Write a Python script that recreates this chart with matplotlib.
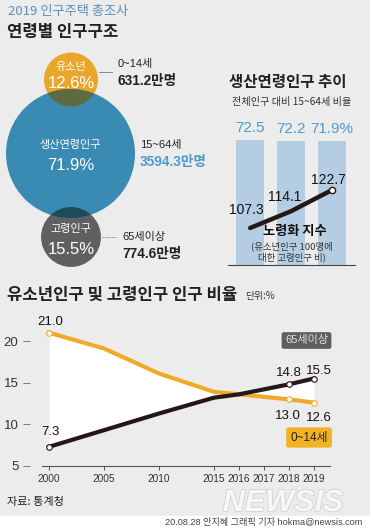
import numpy as np
import matplotlib
matplotlib.use('Agg')
import matplotlib.pyplot as plt
from matplotlib.patches import Circle, Rectangle
import matplotlib.patheffects as pe

plt.rcParams['font.family'] = ['Noto Sans CJK KR', 'DejaVu Sans']
KR = ['Noto Sans CJK KR', 'DejaVu Sans']
NUM = ['Liberation Sans', 'Noto Sans CJK KR', 'DejaVu Sans']

# ---------------- data ----------------
age_groups = ['유소년', '생산연령인구', '고령인구']
age_ranges = ['0~14세', '15~64세', '65세이상']
age_shares = [12.6, 71.9, 15.5]
age_pops = ['631.2만명', '3594.3만명', '774.6만명']

work_labels = ['72.5', '72.2', '71.9%']
work_share = [72.5, 72.2, 71.9]
aging_index = [107.3, 114.1, 122.7]

years = [2000, 2005, 2010, 2015, 2016, 2017, 2018, 2019]
year_labels = ['2000', '2005', '2010', '2015', '2016', '2017', '2018', '2019']
youth = [21.0, 19.1, 16.1, 13.9, 13.6, 13.3, 13.0, 12.6]
elderly = [7.3, 9.3, 11.3, 13.2, 13.6, 14.2, 14.8, 15.5]
marked_years = [2000, 2018, 2019]
y_ticks = [5, 10, 15, 20]

# ---------------- style ----------------
BG = '#ececec'
YEL = '#e9a62b'
BLUE = '#3a8bb3'
GRAY = '#606060'
OLIVE = '#5d6a42'
TEAL = '#1f4a5c'
BAR = '#b4cde2'
TXTBLUE = '#4b9ccb'
DARK = '#231815'
LINEYEL = '#f0aa2a'

W, H = 370, 530
fig = plt.figure(figsize=(W / 100, H / 100), dpi=100, facecolor=BG)

def px_axes(l, t, r, b):
    return fig.add_axes([l / W, 1 - b / H, (r - l) / W, (b - t) / H])

# background / pixel axes
ax0 = fig.add_axes([0, 0, 1, 1])
ax0.set_xlim(0, W)
ax0.set_ylim(H, 0)
ax0.axis('off')
ax0.add_patch(Rectangle((0, 516), W, 14, color='white', zorder=0))

def ftext(x, y, s, **kw):
    # figure-level text placed in pixel coordinates (drawn above all axes)
    return fig.text(x, y, s, transform=ax0.transData, **kw)

ax0.text(8, 12, '2019 인구주택 총조사', fontsize=9.5, color='#5e8fb8', va='center', ha='left', family=KR)
ax0.text(7, 32, '연령별 인구구조', fontsize=12, fontweight='bold', color='#222', va='center', ha='left', family=KR)

# ---- circles (area proportional to share) ----
R_big = 64.5
radii = [R_big * np.sqrt(s / age_shares[1]) for s in age_shares]
centers = [(71, 79.5), (70.5, 153.5), (71, 237)]
c_y = Circle(centers[0], radii[0], color=YEL, lw=0, zorder=1)
c_g = Circle(centers[2], radii[2], color=GRAY, lw=0, zorder=1)
c_b = Circle(centers[1], radii[1], color=BLUE, lw=0, zorder=2)
for c in (c_y, c_g, c_b):
    ax0.add_patch(c)
ov1 = Circle(centers[0], radii[0], color=OLIVE, lw=0, zorder=3)
ov2 = Circle(centers[2], radii[2], color=TEAL, lw=0, zorder=3)
ax0.add_patch(ov1); ov1.set_clip_path(c_b)
ax0.add_patch(ov2); ov2.set_clip_path(c_b)

inner_name_y = [67, 145, 229]
inner_val_y = [84, 166, 250]
for i in range(3):
    cx = centers[i][0]
    ax0.text(cx, inner_name_y[i], age_groups[i], fontsize=8, color='white', ha='center', va='center', zorder=5, family=KR)
    ax0.text(cx, inner_val_y[i], f'{age_shares[i]}%', fontsize=12, color='white', ha='center', va='center', zorder=5, family=NUM)

lab_x = [118, 140, 122]
lab_y1 = [64, 145, 237]
lab_y2 = [81, 162, 254]
pop_colors = ['#222', TXTBLUE, '#222']
for i in range(3):
    ax0.text(lab_x[i], lab_y1[i], age_ranges[i], fontsize=8, color='#222', ha='left', va='center', family=NUM)
    ax0.text(lab_x[i], lab_y2[i], age_pops[i], fontsize=9.8, fontweight='bold', color=pop_colors[i], ha='left', va='center', family=NUM)
ax0.plot([centers[0][0] + radii[0] + 1, 112], [72, 72], color='#888', lw=0.7)
ax0.plot([centers[2][0] + radii[2] + 1, 117], [237, 237], color='#888', lw=0.7, ls=(0, (1.5, 1)))

# ---- right panel ----
ax0.text(229, 82, '생산연령인구 추이', fontsize=11.2, fontweight='bold', color='#222', ha='left', va='center', family=KR)
ax0.text(232, 102, '전체인구 대비 15~64세 비율', fontsize=7.3, color='#333', ha='left', va='center', family=KR)

axb = px_axes(228, 130, 355, 265)
axb.set_facecolor('none')
xb = np.arange(len(work_share))
axb.bar(xb, work_share, width=0.7, color=BAR, zorder=1)
axb.set_xlim(-0.54, 2.56)
axb.set_ylim(0, 78.3)
for s in ['top', 'left', 'right']:
    axb.spines[s].set_visible(False)
axb.spines['bottom'].set_color('#444')
axb.spines['bottom'].set_linewidth(0.8)
axb.set_xticks([]); axb.set_yticks([])
for i, v in enumerate(work_share):
    axb.annotate(work_labels[i], (xb[i], v), xytext=(0, 12), textcoords='offset pixels',
                 ha='center', va='center', fontsize=11, color=TXTBLUE, family=NUM)

axl = axb.twinx()
axl.set_ylim(92.3, 147)
axl.axis('off')
axl.plot(xb, aging_index, color=DARK, lw=3.2, solid_capstyle='round', zorder=3)
axl.plot(xb[-1:], aging_index[-1:], 'o', ms=4.5, mfc='white', mec=DARK, mew=1, zorder=4)
idx_off = [(-4, 18), (-6, 14), (-4, 10)]
for i, v in enumerate(aging_index):
    axl.annotate(f'{v}', (xb[i], v), xytext=idx_off[i], textcoords='offset pixels',
                 ha='center', va='center', fontsize=10, color='#111', family=NUM)

ftext(295, 231, '노령화 지수', fontsize=9.5, fontweight='bold', color='#111', ha='center', va='center', family=KR)
ftext(292, 246, '(유소년인구 100명에', fontsize=6.8, color='#333', ha='center', va='center', family=KR)
ftext(292, 257, '대한 고령인구 비)', fontsize=6.8, color='#333', ha='center', va='center', family=KR)

# ---- bottom line chart ----
ax0.text(7, 295, '유소년인구 및 고령인구 인구 비율', fontsize=12, fontweight='bold', color='#222', ha='left', va='center', family=KR)
ax0.text(245, 296, '단위:%', fontsize=7, color='#333', ha='left', va='center', family=KR)

def fwd(y):
    y = np.asarray(y, dtype=float)
    return np.where(y <= 2015, (y - 2000) / 5.0, 3 + (y - 2015) * 5.0 / 11.0)

def inv(u):
    u = np.asarray(u, dtype=float)
    return np.where(u <= 3, 2000 + u * 5.0, 2015 + (u - 3) * 11.0 / 5.0)

ax = px_axes(42, 316, 330, 466)
ax.set_facecolor('none')
ax.set_xscale('function', functions=(fwd, inv))
ax.set_xlim(1999.36, 2019.64)
ax.set_ylim(5, 23)
ax.fill_between(years, youth, elderly, color='white', lw=0, zorder=1)
ax.plot(years, youth, color=LINEYEL, lw=3, zorder=3, solid_joinstyle='round')
ax.plot(years, elderly, color=DARK, lw=3, zorder=4, solid_joinstyle='round')
mk_y = [youth[years.index(y)] for y in marked_years]
mk_e = [elderly[years.index(y)] for y in marked_years]
ax.plot(marked_years, mk_y, 'o', ms=4, mfc='white', mec=LINEYEL, mew=0.8, zorder=5)
ax.plot(marked_years, mk_e, 'o', ms=4, mfc='white', mec=DARK, mew=0.8, zorder=5)

for s in ['top', 'right']:
    ax.spines[s].set_visible(False)
ax.spines['left'].set_position(('outward', 9))
ax.spines['left'].set_visible(False)
ax.spines['bottom'].set_color('#555')
ax.spines['bottom'].set_linewidth(0.8)
ax.set_yticks(y_ticks)
ax.set_yticklabels([str(t) for t in y_ticks], family=NUM, fontsize=9.5, color='#333')
ax.tick_params(axis='y', length=5, width=0.7, color='#777', pad=3)
ax.set_xticks(years)
ax.set_xticklabels(year_labels, family=NUM, fontsize=7.3, color='#333')
ax.tick_params(axis='x', length=3, width=0.7, color='#555', pad=2.5)

lab_off_e = [(1, 15), (0, 11), (5, 8)]
lab_off_y = [(1, 11), (-1, -17), (5, -15)]
for i, yr in enumerate(marked_years):
    ax.annotate(f'{mk_y[i]:.1f}', (yr, mk_y[i]), xytext=lab_off_y[i], textcoords='offset pixels',
                ha='center', va='center', fontsize=9.5, color='#111', family=NUM, zorder=6)
    ax.annotate(f'{mk_e[i]:.1f}', (yr, mk_e[i]), xytext=lab_off_e[i], textcoords='offset pixels',
                ha='center', va='center', fontsize=9.5, color='#111', family=NUM, zorder=6)

ftext(306.5, 340.5, '65세이상', fontsize=8, color='#e4e4e4', ha='center', va='center', family=NUM,
      bbox=dict(boxstyle='round,pad=0.3,rounding_size=0.2', fc='#5e5e5e', ec='none'))
ftext(309, 437.5, '0~14세', fontsize=8.5, color='#222', ha='center', va='center', family=NUM,
      bbox=dict(boxstyle='round,pad=0.35,rounding_size=0.2', fc='#f1b324', ec='none'))

# ---- footer ----
ax0.text(7, 502, '자료: 통계청', fontsize=8, color='#222', ha='left', va='center', family=KR)
ax0.text(283, 503, 'NEWSIS', fontsize=22, fontweight='bold', style='italic', color='#f7f7f7',
         ha='center', va='center', family=['Liberation Sans', 'DejaVu Sans'],
         path_effects=[pe.withStroke(linewidth=1.2, foreground='#d2d2d2')])
ax0.text(362, 523, '20.08.28 안지혜 그래픽 기자 hokma@newsis.com', fontsize=6.6, color='#444',
         ha='right', va='center', family=NUM)

fig.savefig('out.png', dpi=100, facecolor=BG)
